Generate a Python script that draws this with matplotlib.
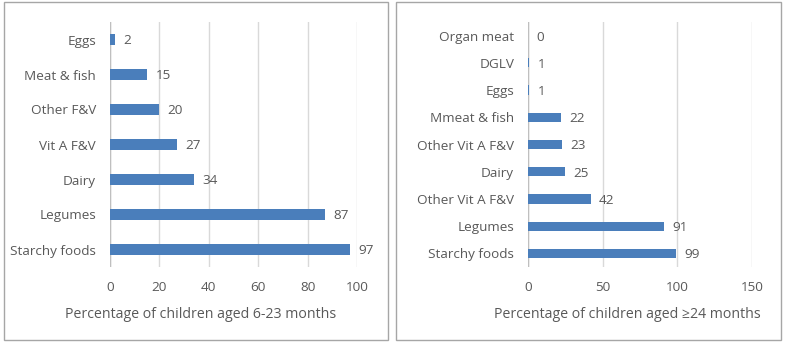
import matplotlib.pyplot as plt
from matplotlib.patches import Rectangle

# Data (bottom to top)
cats_young = ["Starchy foods", "Legumes", "Dairy", "Vit A F&V", "Other F&V", "Meat & fish", "Eggs"]
vals_young = [97, 87, 34, 27, 20, 15, 2]

cats_old = ["Starchy foods", "Legumes", "Other Vit A F&V", "Dairy", "Other Vit A F&V",
            "Mmeat & fish", "Eggs", "DGLV", "Organ meat"]
vals_old = [99, 91, 42, 25, 23, 22, 1, 1, 0]

bar_color = "#4a7ebb"
text_color = "#595959"
grid_color = "#d9d9d9"
font = ["Open Sans", "DejaVu Sans"]
plt.rcParams["font.family"] = font

W, H = 785, 344
fig = plt.figure(figsize=(W / 100, H / 100), dpi=100)


def px_axes(x0, x1, y0, y1):
    return fig.add_axes([x0 / W, 1 - y1 / H, (x1 - x0) / W, (y1 - y0) / H])


def draw_panel(ax, cats, vals, xmax, xticks, bar_h):
    pos = list(range(len(cats)))
    ax.barh(pos, vals, height=bar_h, color=bar_color, zorder=3)
    ax.set_xlim(0, xmax)
    ax.set_ylim(-0.5, len(cats) - 0.5)
    ax.set_xticks(xticks)
    ax.set_yticks(pos)
    ax.set_yticklabels(cats)
    ax.grid(axis="x", color=grid_color, linewidth=1, zorder=0)
    ax.tick_params(length=0, colors=text_color, labelsize=9.7, pad=10)
    ax.tick_params(axis="x", pad=10)
    for s in ax.spines.values():
        s.set_visible(False)
    ax.axvline(0, color="#bfbfbf", linewidth=1, zorder=2)
    for p, v in zip(pos, vals):
        ax.annotate(f"{v}", (v, p), xytext=(6, -1), textcoords="offset points",
                    va="center", ha="left", fontsize=9.7, color=text_color)


ax1 = px_axes(110, 357, 22, 267)
draw_panel(ax1, cats_young, vals_young, 100, [0, 20, 40, 60, 80, 100], 0.34)

ax2 = px_axes(528, 752, 22, 267)
draw_panel(ax2, cats_old, vals_old, 150, [0, 50, 100, 150], 0.34)

# Axis titles
fig.text(201 / W, 1 - 314 / H, "Percentage of children aged 6-23 months",
         ha="center", va="center", fontsize=10.2, color=text_color)
fig.text(627 / W, 1 - 314 / H, "Percentage of children aged \u226524 months",
         ha="center", va="center", fontsize=10.2, color=text_color)

# Chart borders
for x0, x1 in [(4, 388), (396, 781)]:
    fig.patches.append(Rectangle((x0 / W, 1 - 340 / H), (x1 - x0) / W, 338 / H,
                                 transform=fig.transFigure, fill=False,
                                 edgecolor="#a6a6a6", linewidth=1))

fig.savefig("out.png", dpi=100)
